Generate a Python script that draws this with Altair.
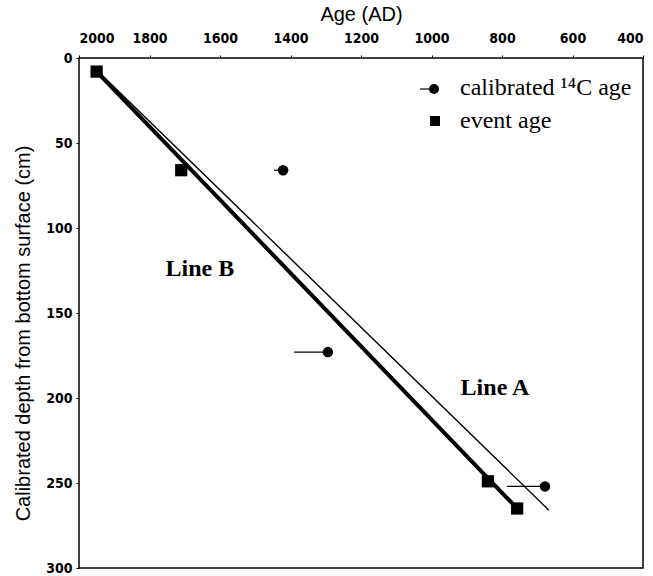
import altair as alt
import pandas as pd

# ---- data ----
event_age = [1950, 1710, 840, 757]
event_depth = [8, 66, 249, 265]

c14_age = [1421, 1294, 678]
c14_depth = [66, 173, 252]
c14_err_old = [1447, 1390, 786]

lineA_age = [1950, 667]
lineA_depth = [7, 266]
lineB_age = [1950, 757]
lineB_depth = [8, 265]

label_text = ["Line B", "Line A"]
label_age = [1657, 820]
label_depth = [124, 194]

x_ticks = list(range(400, 2001, 200))
y_ticks = list(range(0, 301, 50))
legend_labels = ["calibrated \u00b9\u2074C age", "event age"]

# ---- tables ----
events = pd.DataFrame({"age": event_age, "depth": event_depth})
c14 = pd.DataFrame({"age": c14_age, "depth": c14_depth, "old": c14_err_old})
lineA = pd.DataFrame({"age": lineA_age, "depth": lineA_depth})
lineB = pd.DataFrame({"age": lineB_age, "depth": lineB_depth})
labels = pd.DataFrame({"text": label_text, "age": label_age, "depth": label_depth})

W, H = 564, 510
tick_font = "Liberation Sans Narrow, DejaVu Sans Condensed, Liberation Sans"

xscale = alt.Scale(domain=[400, 2000], reverse=True, nice=False, zero=False)
yscale = alt.Scale(domain=[0, 300], reverse=True, nice=False, zero=False)

x_axis = alt.Axis(orient="top", values=x_ticks, title="Age (AD)", titleFont="Liberation Sans",
                  titleFontSize=20, titleFontWeight="normal", titlePadding=7,
                  labelFont=tick_font, labelFontSize=14, labelFontWeight="bold",
                  labelColor="black", tickColor="black", tickSize=3, domain=False,
                  grid=False, labelPadding=10, format="d")
y_axis = alt.Axis(orient="left", values=y_ticks, title="Calibrated depth from bottom surface  (cm)",
                  titleFont="Liberation Sans", titleFontSize=20, titleFontWeight="normal",
                  titlePadding=12, titleY=275, labelFont=tick_font, labelFontSize=14,
                  labelFontWeight="bold", labelColor="black", tickColor="black", tickSize=3,
                  domain=False, grid=False, labelPadding=4)

X = alt.X("age:Q", scale=xscale, axis=x_axis)
Y = alt.Y("depth:Q", scale=yscale, axis=y_axis)

line_a = alt.Chart(lineA).mark_line(color="black", strokeWidth=1.4).encode(x=X, y=Y)
line_b = alt.Chart(lineB).mark_line(color="black", strokeWidth=4).encode(x=X, y=Y)

err = alt.Chart(c14).mark_rule(color="black", strokeWidth=1.2).encode(
    x=X, x2="old:Q", y=Y)
circles = alt.Chart(c14).mark_point(shape="circle", filled=True, color="black",
                                    size=110, opacity=1).encode(x=X, y=Y)
squares = alt.Chart(events).mark_point(shape="square", filled=True, color="black",
                                       size=150, opacity=1).encode(x=X, y=Y)

line_labels = alt.Chart(labels).mark_text(font="Liberation Serif", fontSize=24,
                                          fontWeight="bold", color="black").encode(
    x=X, y=Y, text="text:N")

# ---- manual legend (pixel positions inside the plot area) ----
leg = pd.DataFrame({"label": legend_labels, "row": [0, 1]})
leg_text = alt.Chart(leg).transform_filter("datum.row == 0").mark_text(
    font="Liberation Serif", fontSize=24, align="left", baseline="middle", color="black"
).encode(x=alt.value(381), y=alt.value(30), text="label:N")
leg_text2 = alt.Chart(leg).transform_filter("datum.row == 1").mark_text(
    font="Liberation Serif", fontSize=24, align="left", baseline="middle", color="black"
).encode(x=alt.value(381), y=alt.value(63), text="label:N")
leg_rule = alt.Chart(leg).transform_filter("datum.row == 0").mark_rule(
    color="black", strokeWidth=1.2).encode(x=alt.value(341), x2=alt.value(354), y=alt.value(31))
leg_circle = alt.Chart(leg).transform_filter("datum.row == 0").mark_point(
    shape="circle", filled=True, color="black", size=100, opacity=1
).encode(x=alt.value(355), y=alt.value(31))
leg_square = alt.Chart(leg).transform_filter("datum.row == 1").mark_point(
    shape="square", filled=True, color="black", size=100, opacity=1
).encode(x=alt.value(356), y=alt.value(63))

chart = alt.layer(
    line_a, line_b, err, circles, squares, line_labels,
    leg_rule, leg_circle, leg_text, leg_square, leg_text2
).properties(
    width=W, height=H,
    autosize=alt.AutoSizeParams(type="none"),
    padding={"left": 79, "top": 58, "right": 10, "bottom": 8},
    background="white",
).configure_view(stroke="black", strokeWidth=1.5)

chart.save("out.html", embed_options={"renderer": "svg", "actions": False})
